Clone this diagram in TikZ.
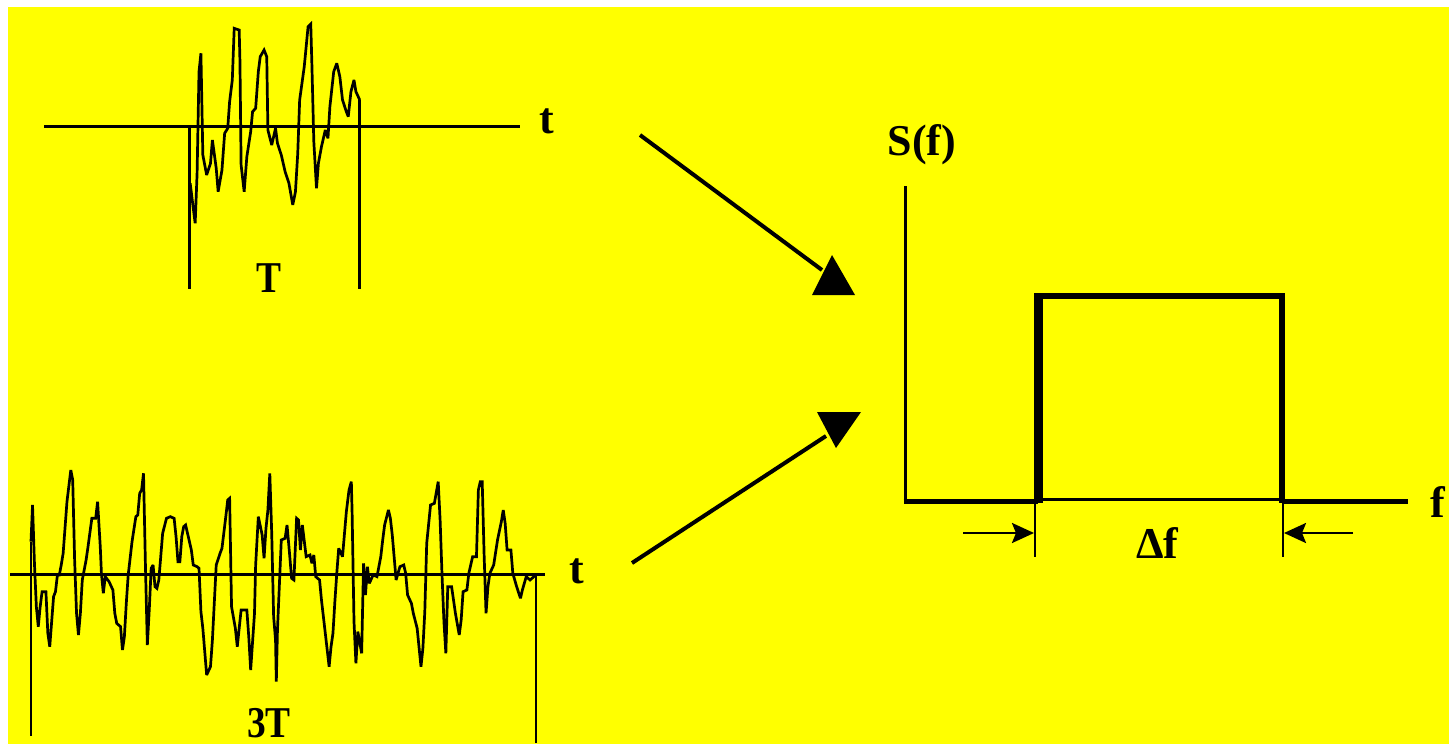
\documentclass[tikz,border=0pt]{standalone}
\usepackage{fontspec}
\setmainfont{Liberation Serif}
\usetikzlibrary{arrows.meta}
\definecolor{bgyellow}{RGB}{255,255,0}
\begin{document}
\begin{tikzpicture}[x=1pt,y=-1pt,
  axisline/.style={line width=3pt},
  wave/.style={line width=2.7pt, line join=miter, miter limit=3},
  bound/.style={line width=2.5pt},
  lbl/.style={inner sep=0pt, font=\fontsize{44}{44}\selectfont\bfseries},
  bigarrow/.style={line width=4pt},
  dimarrow/.style={line width=2.6pt, -{Stealth[length=22pt,width=20pt,inset=4pt]}},
  ext/.style={line width=2pt}]
\useasboundingbox (0,0) rectangle (1449,744);
\fill[white] (0,0) rectangle (1449,744);
\fill[bgyellow] (8,7) rectangle (1449,744);

% ---------- top signal (duration T) ----------
\coordinate (tax1) at (44,126);
\coordinate (tax2) at (520,126);
\draw[axisline] (tax1) -- (tax2);
\node[lbl] (tlab1) at (547,121) {t};
\node[lbl] (Tlab) at (268.5,278.5) {\scalebox{0.85}[1]{T}};
\begin{scope}[x=0.3827pt, y=-0.3333pt]
\draw[bound] (495,379) -- (495,868);
\draw[bound] (940,300) -- (940,868);
\draw[wave] plot coordinates {
(497,550) (505,625) (510,670) (515,520) (520,215) (525,160) (530,465)
(540,525) (550,490) (555,420) (565,505) (570,575) (580,510) (587,400)
(595,385) (600,305) (607,240) (612,85) (625,90) (627,185) (630,495)
(638,575) (645,470) (655,395) (660,335) (668,325) (675,215) (680,170)
(690,150) (697,170) (700,390) (710,435) (720,385) (725,430) (735,465)
(745,515) (755,550) (765,615) (772,575) (778,460) (783,300) (795,200)
(805,80) (812,72) (815,195) (820,425) (827,565) (832,490) (840,440)
(850,390) (857,415) (862,320) (872,215) (880,190) (888,230) (895,300)
(905,335) (910,350) (917,275) (925,240) (930,275) (940,300)};
\end{scope}

% ---------- bottom signal (duration 3T) ----------
\coordinate (bax1) at (10,574);
\coordinate (bax2) at (545,574);
\draw[axisline] (bax1) -- (bax2);
\node[lbl] (tlab2) at (576.5,571.5) {t};
\node[lbl] (T3lab) at (269,723) {\scalebox{0.85}[1]{3T}};
\begin{scope}[yshift=-440pt, x=0.3827pt, y=-0.3333pt]
\draw[bound] (81,305) -- (81,888);
\draw[bound] (1400,403) -- (1400,910);
\draw[wave] plot coordinates {
(81,305) (85,195) (90,370) (95,500) (100,560) (105,500) (110,455) (120,455)
(125,580) (130,620) (135,545) (140,470) (145,455) (150,405) (155,405)
(160,375) (165,340) (175,185) (185,90) (190,120) (195,360) (200,520)
(205,585) (210,520) (215,420) (225,360) (230,320) (240,235) (250,235)
(255,185) (262,320) (265,400) (270,460) (275,410) (285,425) (295,450)
(300,520) (305,550) (315,560) (320,630) (325,590) (330,490) (335,405)
(345,305) (355,230) (360,225) (365,160) (370,150) (375,100) (380,375)
(385,615) (390,510) (395,385) (400,375) (405,440) (410,445) (415,420)
(425,280) (435,235) (445,230) (455,235) (460,290) (465,365) (470,365)
(475,290) (480,260) (485,255) (490,280) (500,330) (505,375) (515,380)
(520,385) (525,515) (530,565) (540,705) (550,680) (555,600) (565,375)
(575,340) (580,325) (590,230) (595,180) (600,175) (605,500) (615,565)
(620,620) (630,510) (645,510) (650,590) (655,690) (665,520) (668,375)
(675,230) (685,285) (690,355) (695,265) (700,210) (705,100) (710,280)
(715,530) (720,600) (722,725) (725,570) (735,300) (745,295) (750,255)
(755,320) (762,415) (768,420) (775,235) (780,240) (785,330) (790,255)
(800,350) (810,345) (815,370) (820,345) (825,410) (835,420) (840,480)
(850,580) (860,680) (865,620) (870,580) (875,485) (880,400) (885,325)
(895,350) (905,215) (912,150) (918,125) (920,215) (925,545) (930,670)
(935,575) (945,640) (950,370) (955,465) (960,380) (965,430) (975,405)
(985,410) (995,350) (1000,300) (1005,255) (1015,210) (1020,235) (1025,285)
(1035,420) (1045,380) (1055,375) (1060,400) (1065,465) (1075,490)
(1080,520) (1090,565) (1100,680) (1105,625) (1110,515) (1115,310)
(1125,195) (1135,190) (1145,125) (1150,240) (1155,405) (1160,545)
(1165,640) (1170,440) (1180,440) (1190,520) (1200,585) (1205,540)
(1210,455) (1220,450) (1225,400) (1235,350) (1245,350) (1250,150)
(1255,125) (1260,125) (1265,345) (1270,520) (1275,440) (1280,400)
(1290,375) (1300,300) (1310,245) (1315,210) (1320,250) (1325,330)
(1335,330) (1340,400) (1350,440) (1360,475) (1365,450) (1375,410)
(1385,420) (1395,410) (1400,403)};
\end{scope}

% ---------- middle arrows ----------
\coordinate (a1s) at (640,135);
\coordinate (a1e) at (822,270);
\draw[bigarrow] (a1s) -- (a1e);
\fill (832,255) -- (855,295) -- (812,295) -- cycle;
\coordinate (a2s) at (632,563);
\coordinate (a2e) at (826,436);
\draw[bigarrow] (a2s) -- (a2e);
\fill (817,412) -- (861,412) -- (836,448) -- cycle;

% ---------- spectrum ----------
\coordinate (o) at (905,500);
\coordinate (ytop) at (905,186);
\coordinate (fend) at (1408,501);
\draw[line width=3pt] (ytop) -- (905,501.5);
\draw[line width=5pt] (903.5,501) -- (1038,501);
\draw[line width=3.3pt] (1038,499.3) -- (1282,499.3);
\draw[line width=5pt] (1282,501) -- (fend);
\draw[line width=8.3pt] (1038.4,503) -- (1038.4,293.3);
\draw[line width=5.7pt] (1034.3,296.1) -- (1284.7,296.1);
\draw[line width=5.5pt] (1282,293.3) -- (1282,503);
\node[lbl] (Slab) at (922,145) {S(f)};
\node[lbl] (flab) at (1438,502) {f};

% ---------- bandwidth dimension ----------
\coordinate (e1t) at (1035.3,503);
\coordinate (e1b) at (1035.3,557);
\coordinate (e2t) at (1282.8,503);
\coordinate (e2b) at (1282.8,557);
\draw[ext] (e1t) -- (e1b);
\draw[ext] (e2t) -- (e2b);
\coordinate (d1s) at (963,533);
\coordinate (d1e) at (1034,533);
\coordinate (d2s) at (1353,533);
\coordinate (d2e) at (1284,533);
\draw[dimarrow] (d1s) -- (d1e);
\draw[dimarrow] (d2s) -- (d2e);
\node[lbl] (dflab) at (1157.5,543.5) {Δf};
\end{tikzpicture}
\end{document}
